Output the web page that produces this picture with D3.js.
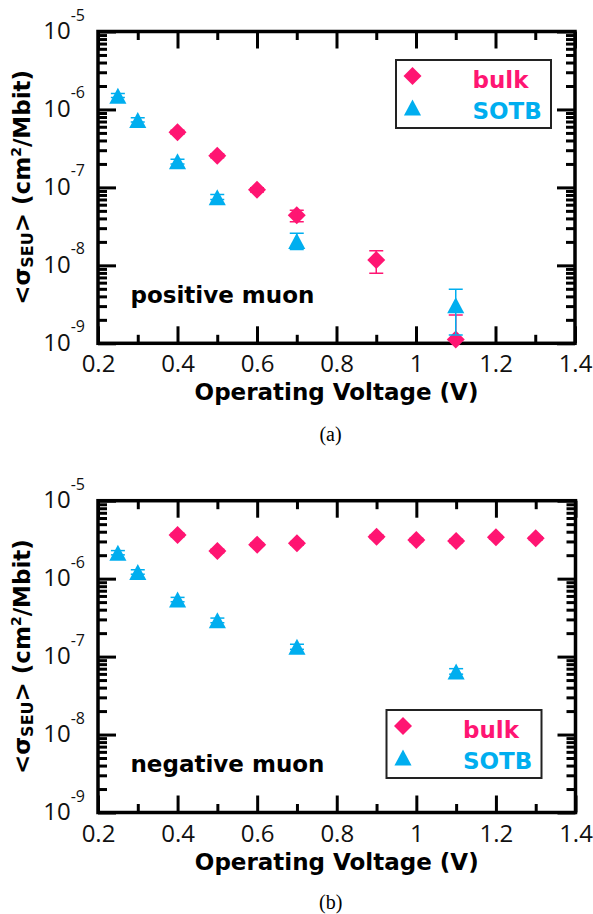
<!DOCTYPE html>
<html>
<head>
<meta charset="utf-8">
<script src="https://cdn.jsdelivr.net/npm/d3@7"></script>
<style>
body { margin: 0; background: #fff; }
svg { display: block; }
</style>
</head>
<body>
<svg id="chart" width="593" height="914"></svg>
<script>
// ---- values ----
const voltageTicks = [0.2, 0.4, 0.6, 0.8, 1, 1.2, 1.4];
const voltageMinor = [0.3, 0.5, 0.7, 0.9, 1.1, 1.3];
const decadeTicks = [1e-9, 1e-8, 1e-7, 1e-6, 1e-5];

// (a) positive muon
const posBulkV = [0.4, 0.5, 0.6, 0.7, 0.9, 1.1];
const posBulkSigma = [5.1e-7, 2.55e-7, 9.3e-8, 4.4e-8, 1.17e-8, 1.12e-9];
const posBulkLo = [4.8e-7, 2.4e-7, 8.7e-8, 3.63e-8, 7.9e-9, 5e-10];
const posBulkHi = [5.4e-7, 2.7e-7, 9.9e-8, 5.1e-8, 1.54e-8, 2.3e-9];

const posSotbV = [0.25, 0.3, 0.4, 0.5, 0.7, 1.1];
const posSotbSigma = [1.5e-6, 7.3e-7, 2.16e-7, 7.5e-8, 2.05e-8, 3.07e-9];
const posSotbLo = [1.42e-6, 6.9e-7, 2.0e-7, 7.0e-8, 1.6e-8, 1.28e-9];
const posSotbHi = [1.6e-6, 7.8e-7, 2.3e-7, 8.1e-8, 2.58e-8, 4.93e-9];

// (b) negative muon
const negBulkV = [0.4, 0.5, 0.6, 0.7, 0.9, 1.0, 1.1, 1.2, 1.3];
const negBulkSigma = [3.63e-6, 2.26e-6, 2.73e-6, 2.84e-6, 3.45e-6, 3.13e-6, 3.04e-6, 3.39e-6, 3.29e-6];
const negBulkLo = [3.45e-6, 2.15e-6, 2.6e-6, 2.7e-6, 3.28e-6, 2.98e-6, 2.89e-6, 3.22e-6, 3.13e-6];
const negBulkHi = [3.82e-6, 2.38e-6, 2.87e-6, 2.99e-6, 3.63e-6, 3.29e-6, 3.2e-6, 3.56e-6, 3.46e-6];

const negSotbV = [0.25, 0.3, 0.4, 0.5, 0.7, 1.1];
const negSotbSigma = [2.15e-6, 1.22e-6, 5.4e-7, 2.92e-7, 1.34e-7, 6.46e-8];
const negSotbLo = [2.02e-6, 1.14e-6, 5.05e-7, 2.72e-7, 1.24e-7, 5.95e-8];
const negSotbHi = [2.29e-6, 1.3e-6, 5.75e-7, 3.12e-7, 1.44e-7, 7.0e-8];

const seriesNames = ["bulk", "SOTB"];
const pink = "#ff1572";
const cyan = "#00aeef";
const boldFont = "DejaVu Sans, sans-serif";
const tickFont = "Open Sans, sans-serif";

// minor log ticks 2..9 in each decade
let logMinor = [];
for (let d = -9; d < -5; d++) {
  for (let k = 2; k <= 9; k++) logMinor.push(k * Math.pow(10, d));
}

// marker shapes
const diamond = {
  draw(ctx, size) {
    const r = Math.sqrt(size) / 2;
    ctx.moveTo(0, -r); ctx.lineTo(r, 0); ctx.lineTo(0, r); ctx.lineTo(-r, 0); ctx.closePath();
  }
};
const triangle = {
  draw(ctx, size) {
    const r = Math.sqrt(size) / 2;
    ctx.moveTo(0, -r); ctx.lineTo(r * 1.07, r); ctx.lineTo(-r * 1.07, r); ctx.closePath();
  }
};

const svg = d3.select("#chart");

function drawPanel(cfg) {
  const g = svg.append("g");
  const x = d3.scaleLinear().domain([0.2, 1.4]).range([cfg.left, cfg.right]);
  const y = d3.scaleLog().domain([1e-9, 1e-5]).range([cfg.bottom, cfg.top]);

  const clipId = "clip" + cfg.id;
  g.append("clipPath").attr("id", clipId)
    .append("rect")
    .attr("x", cfg.left).attr("y", cfg.top)
    .attr("width", cfg.right - cfg.left).attr("height", cfg.bottom - cfg.top);

  function styleAxis(a) {
    a.select(".domain").remove();
    a.selectAll(".tick line").attr("stroke", "#000").attr("stroke-width", 3);
  }

  // x axes (bottom with labels, top without)
  g.append("g").attr("transform", `translate(0,${cfg.bottom})`)
    .call(d3.axisBottom(x).tickValues(voltageTicks).tickSize(-17).tickPadding(12)
      .tickFormat(d3.format("~g")))
    .call(styleAxis)
    .call(a => a.selectAll("text").attr("font-size", 24).attr("font-family", tickFont)
      .attr("fill", "#111"));
  g.append("g").attr("transform", `translate(0,${cfg.bottom})`)
    .call(d3.axisBottom(x).tickValues(voltageMinor).tickSize(-8.5).tickFormat(""))
    .call(styleAxis);
  g.append("g").attr("transform", `translate(0,${cfg.top})`)
    .call(d3.axisTop(x).tickValues(voltageTicks).tickSize(-17).tickFormat(""))
    .call(styleAxis);
  g.append("g").attr("transform", `translate(0,${cfg.top})`)
    .call(d3.axisTop(x).tickValues(voltageMinor).tickSize(-8.5).tickFormat(""))
    .call(styleAxis);

  // y axes
  g.append("g").attr("transform", `translate(${cfg.left},0)`)
    .call(d3.axisLeft(y).tickValues(decadeTicks).tickSize(-18).tickFormat(""))
    .call(styleAxis);
  g.append("g").attr("transform", `translate(${cfg.left},0)`)
    .call(d3.axisLeft(y).tickValues(logMinor).tickSize(-9).tickFormat(""))
    .call(styleAxis);
  g.append("g").attr("transform", `translate(${cfg.right},0)`)
    .call(d3.axisRight(y).tickValues(decadeTicks).tickSize(-18).tickFormat(""))
    .call(styleAxis);
  g.append("g").attr("transform", `translate(${cfg.right},0)`)
    .call(d3.axisRight(y).tickValues(logMinor).tickSize(-9).tickFormat(""))
    .call(styleAxis);

  // y tick labels 10^n
  g.selectAll(".ylab").data(decadeTicks).join("text")
    .attr("class", "ylab")
    .attr("x", cfg.left - 13)
    .attr("y", d => y(d) + 7.5)
    .attr("text-anchor", "end")
    .attr("font-family", tickFont).attr("fill", "#111")
    .each(function (d) {
      const t = d3.select(this);
      t.append("tspan").attr("font-size", 24).text("10");
      t.append("tspan").attr("font-size", 16).attr("dy", -18.5).text(Math.round(Math.log10(d)));
    });

  // frame
  g.append("rect")
    .attr("x", cfg.left).attr("y", cfg.top)
    .attr("width", cfg.right - cfg.left).attr("height", cfg.bottom - cfg.top)
    .attr("fill", "none").attr("stroke", "#000").attr("stroke-width", 3.5);

  // data: error bars clipped to the frame, markers drawn whole
  const bars = g.append("g").attr("clip-path", `url(#${clipId})`);
  const marks = g.append("g");
  function series(vs, sig, lo, hi, color, shape, size) {
    const rows = vs.map((v, i) => ({ v: v, s: sig[i], lo: lo[i], hi: hi[i] }));
    const eb = bars.append("g").attr("stroke", color).attr("stroke-width", 1.5);
    eb.selectAll("line.v").data(rows).join("line").attr("class", "v")
      .attr("x1", d => x(d.v)).attr("x2", d => x(d.v))
      .attr("y1", d => y(d.lo)).attr("y2", d => y(d.hi));
    eb.selectAll("line.lo").data(rows).join("line").attr("class", "lo")
      .attr("x1", d => x(d.v) - 7).attr("x2", d => x(d.v) + 7)
      .attr("y1", d => y(d.lo)).attr("y2", d => y(d.lo));
    eb.selectAll("line.hi").data(rows).join("line").attr("class", "hi")
      .attr("x1", d => x(d.v) - 7).attr("x2", d => x(d.v) + 7)
      .attr("y1", d => y(d.hi)).attr("y2", d => y(d.hi));
    marks.append("g").selectAll("path").data(rows).join("path")
      .attr("transform", d => `translate(${x(d.v)},${y(d.s)})`)
      .attr("d", d3.symbol().type(shape).size(size))
      .attr("fill", color);
  }
  series(cfg.bulkV, cfg.bulkS, cfg.bulkLo, cfg.bulkHi, pink, diamond, 324);
  series(cfg.sotbV, cfg.sotbS, cfg.sotbLo, cfg.sotbHi, cyan, triangle, 256);
  bars.raise();

  // legend
  const lg = g.append("g").attr("transform", `translate(${cfg.legX},${cfg.legY})`);
  lg.append("rect").attr("width", 155).attr("height", 68)
    .attr("fill", "#fff").attr("stroke", "#222").attr("stroke-width", 2);
  const legendShapes = [diamond, triangle];
  const legendColors = [pink, cyan];
  const legendSizes = [324, 256];
  seriesNames.forEach((name, i) => {
    lg.append("path")
      .attr("transform", `translate(16.5,${16 + i * 31.5})`)
      .attr("d", d3.symbol().type(legendShapes[i]).size(legendSizes[i]))
      .attr("fill", legendColors[i]);
    lg.append("text")
      .attr("x", 76.5).attr("y", 28 + i * 30.5)
      .attr("font-family", boldFont).attr("font-weight", "bold").attr("font-size", 23)
      .attr("fill", legendColors[i])
      .text(name);
  });

  // annotation
  g.append("text")
    .attr("x", 130.5).attr("y", cfg.top + 271.5)
    .attr("font-family", boldFont).attr("font-weight", "bold").attr("font-size", 23)
    .text(cfg.note);

  // x title
  g.append("text")
    .attr("x", (cfg.left + cfg.right) / 2).attr("y", cfg.bottom + 57)
    .attr("text-anchor", "middle")
    .attr("font-family", boldFont).attr("font-weight", "bold").attr("font-size", 23)
    .text("Operating Voltage (V)");

  // y title
  const yt = g.append("text")
    .attr("transform", `translate(30,${(cfg.top + cfg.bottom) / 2}) rotate(-90)`)
    .attr("text-anchor", "middle")
    .attr("font-family", boldFont).attr("font-weight", "bold").attr("font-size", 23);
  yt.append("tspan").text("<σ");
  yt.append("tspan").attr("font-size", 16).attr("dy", 3).text("SEU");
  yt.append("tspan").attr("dy", -3).text("> (cm");
  yt.append("tspan").attr("font-size", 14).attr("dy", -9).text("2");
  yt.append("tspan").attr("dy", 9).text("/Mbit)");

  // caption
  g.append("text")
    .attr("x", (cfg.left + cfg.right) / 2 - 6).attr("y", cfg.capY)
    .attr("text-anchor", "middle")
    .attr("font-family", "Liberation Serif, serif").attr("font-size", 20)
    .text(cfg.caption);
}

drawPanel({
  id: "a", left: 98, right: 575, top: 31.5, bottom: 343.3,
  bulkV: posBulkV, bulkS: posBulkSigma, bulkLo: posBulkLo, bulkHi: posBulkHi,
  sotbV: posSotbV, sotbS: posSotbSigma, sotbLo: posSotbLo, sotbHi: posSotbHi,
  legX: 396, legY: 60, note: "positive muon", caption: "(a)", capY: 441
});
drawPanel({
  id: "b", left: 98, right: 575.5, top: 500.7, bottom: 812.5,
  bulkV: negBulkV, bulkS: negBulkSigma, bulkLo: negBulkLo, bulkHi: negBulkHi,
  sotbV: negSotbV, sotbS: negSotbSigma, sotbLo: negSotbLo, sotbHi: negSotbHi,
  legX: 386.5, legY: 710, note: "negative muon", caption: "(b)", capY: 909
});
</script>
</body>
</html>
